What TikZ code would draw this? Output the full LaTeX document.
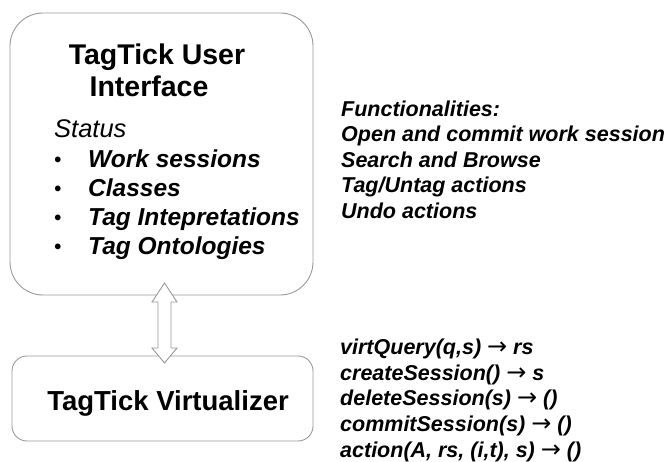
\documentclass[tikz,border=0pt]{standalone}
\usepackage{fontspec}
\setmainfont{Liberation Sans}
\newfontfamily\arrfont{DejaVu Sans}
\newcommand{\rarr}{{\arrfont\fontsize{24}{26}\selectfont\mdseries\upshape →}}
\begin{document}
\begin{tikzpicture}[x=1pt,y=-1pt,
  boxline/.style={draw=gray!80, line width=0.9pt, fill=white},
  titletext/.style={font=\fontsize{28.5}{34}\selectfont\bfseries, anchor=base, inner sep=0pt},
  vtitle/.style={font=\fontsize{27.5}{32}\selectfont\bfseries, anchor=base, inner sep=0pt},
  statustext/.style={font=\fontsize{25.5}{29}\selectfont\itshape, anchor=base west, inner sep=0pt},
  itemtext/.style={font=\fontsize{24.5}{29}\selectfont\bfseries\itshape, anchor=base west, inner sep=0pt},
  bullettext/.style={font=\fontsize{20}{29}\selectfont\bfseries, anchor=base, inner sep=0pt},
  sidetext/.style={font=\fontsize{21.5}{26}\selectfont\bfseries\itshape, anchor=base west, inner sep=0pt},
  blockarrow/.style={draw=gray!80, line width=0.9pt, fill=white, line join=miter}
]
\useasboundingbox (0,0) rectangle (667,462);
% boxes
\node[boxline, rounded corners=33pt, minimum width=303pt, minimum height=282pt, inner sep=0pt] (ui) at (161.5,154) {};
\node[boxline, rounded corners=15pt, minimum width=301pt, minimum height=85pt, inner sep=0pt] (virt) at (162.5,398.5) {};
% titles
\node[titletext] (t1) at (157,65) {TagTick User};
\node[titletext] (t2) at (149,97) {Interface};
\node[statustext] (st) at (54,138) {Status};
\node[bullettext] (b1) at (58,167) {•};
\node[bullettext] (b2) at (58,196) {•};
\node[bullettext] (b3) at (58,225) {•};
\node[bullettext] (b4) at (58,254) {•};
\node[itemtext] (i1) at (88,168) {Work sessions};
\node[itemtext] (i2) at (88,197) {Classes};
\node[itemtext] (i3) at (88,226) {Tag Intepretations};
\node[itemtext] (i4) at (88,255) {Tag Ontologies};
\node[vtitle] (vt) at (168,410) {TagTick Virtualizer};
% block arrow
\coordinate (atop) at (164.5,283);
\coordinate (abot) at (164.5,363);
\draw[blockarrow] (atop) -- ++(12.5,19) -- ++(-6,0) -- ++(0,46) -- ++(6,0) -- (abot)
  -- ++(-12.5,-15) -- ++(6,0) -- ++(0,-46) -- ++(-6,0) -- cycle;
% functionalities
\node[sidetext] (f1) at (341,116.5) {Functionalities:};
\node[sidetext] (f2) at (341,142) {Open and commit work session};
\node[sidetext] (f3) at (341,167.5) {Search and Browse};
\node[sidetext] (f4) at (341,193) {Tag/Untag actions};
\node[sidetext] (f5) at (341,218.5) {Undo actions};
% virtualizer API
\node[sidetext] (v1) at (340,355) {virtQuery(q,s) \rarr{} rs};
\node[sidetext] (v2) at (340,380.5) {createSession() \rarr{} s};
\node[sidetext] (v3) at (340,406) {deleteSession(s) \rarr{} ()};
\node[sidetext] (v4) at (340,431.5) {commitSession(s) \rarr{} ()};
\node[sidetext] (v5) at (340,457) {action(A, rs, (i,t), s) \rarr{} ()};
\end{tikzpicture}
\end{document}
